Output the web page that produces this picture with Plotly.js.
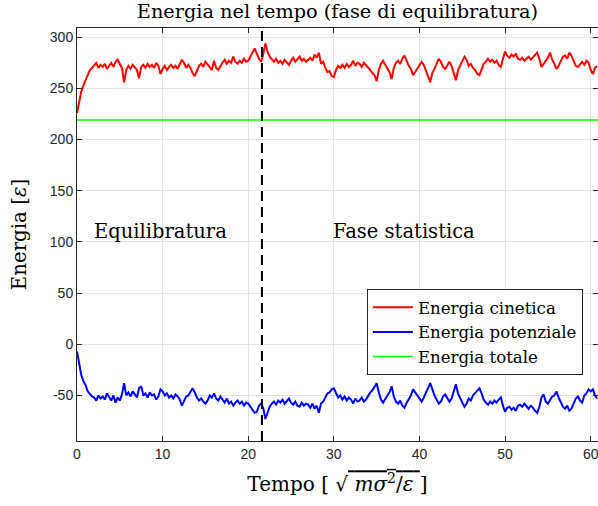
<!DOCTYPE html>
<html>
<head>
<meta charset="utf-8">
<script src="https://cdn.plot.ly/plotly-3.0.1.min.js"></script>
<style>html,body{margin:0;padding:0;background:#fff;overflow:hidden;}#chart{width:604px;height:506px;}</style>
</head>
<body>
<div id="chart"></div>
<script>
// Sampling of the time series (reduced units)
const timeStart = 0;
const timeStep = 0.25;
const timeEnd = 60.85;
const equilibrationEnd = 21.6;

// Kinetic energy (red)
const kineticEnergy = [
226,238,247,253, 258,263,268,270, 272,275,270,273, 271,274,269,272, 275,271,276,278,
274,270,256,268, 272,269,273,270, 268,260,271,273, 270,274,271,273, 270,275,272,264,
269,272,268,271, 273,270,272,269, 274,278,275,270, 273,270,265,262, 267,272,274,271,
276,273,270,268, 277,270,268,272, 275,278,274,277, 275,281,276,274, 277,275,279,276,
277,281,285,289, 284,279,276,283, 294,286,281,278, 276,279,275,277, 274,278,276,273,
277,280,276,279, 281,277,279,276, 278,280,277,283, 280,285,274,276, 270,266,267,262,
261,268,272,270, 273,270,274,271, 273,277,272,275, 274,271,275,273, 270,268,265,263,
257,268,274,277, 273,269,266,259, 270,275,277,274, 279,282,276,272, 269,263,266,269,
272,276,273,268, 262,256,265,269, 274,279,276,271, 269,273,276,272, 266,258,268,272,
276,281,278,272, 274,270,268,264, 263,268,274,276, 279,276,278,275, 277,273,271,279,
286,282,280,283, 281,284,279,278, 280,277,279,281, 278,280,283,285, 279,271,274,277,
280,285,278,274, 269,272,276,281, 282,279,285,282, 277,272,271,274, 276,273,277,275,
268,264,270,272
];

// Potential energy (blue)
const potentialEnergy = [
-7,-19,-30,-36, -40,-46,-49,-51, -52,-55,-50,-53, -51,-54,-48,-52, -55,-50,-57,-52,
-55,-49,-38,-50, -47,-51,-46,-49, -52,-43,-41,-50, -48,-52,-47,-50, -49,-54,-51,-44,
-46,-50,-48,-52, -50,-53,-49,-51, -54,-60,-55,-51, -50,-46,-43,-47, -52,-55,-53,-56,
-58,-55,-50,-52, -48,-53,-55,-51, -54,-57,-53,-58, -56,-60,-57,-55, -58,-56,-60,-57,
-58,-61,-65,-67, -66,-60,-58,-62, -73,-66,-61,-58, -56,-59,-55,-57, -54,-58,-55,-53,
-57,-59,-56,-60, -61,-57,-60,-58, -59,-62,-58,-63, -60,-67,-58,-56, -52,-48,-47,-44,
-43,-48,-52,-50, -54,-51,-55,-52, -54,-58,-53,-56, -55,-52,-56,-54, -50,-47,-45,-41,
-38,-47,-54,-57, -53,-50,-47,-41, -51,-56,-58,-55, -60,-62,-57,-53, -50,-44,-47,-50,
-53,-56,-52,-48, -43,-38,-45,-50, -54,-58,-56,-51, -49,-52,-56,-53, -47,-39,-48,-53,
-57,-61,-58,-53, -55,-50,-48,-45, -43,-48,-54,-57, -59,-56,-58,-55, -57,-54,-52,-60,
-66,-62,-61,-64, -62,-65,-60,-59, -61,-58,-60,-63, -60,-62,-65,-67, -61,-52,-49,-56,
-58,-54,-51,-50, -46,-52,-57,-61, -63,-60,-65,-63, -58,-53,-51,-55, -57,-50,-48,-44,
-46,-44,-50,-53
];

// Total energy (green), constant
const totalEnergy = 219;

const xTickVals = [0, 10, 20, 30, 40, 50, 60];
const xTickText = ['0', '10', '20', '30', '40', '50', '60'];
const yTickVals = [-50, 0, 50, 100, 150, 200, 250, 300];
const yTickText = ['-50', '0', '50', '100', '150', '200', '250', '300'];

const seriesNames = ['Energia cinetica', 'Energia potenziale', 'Energia totale'];
const phaseLabels = ['Equilibratura', 'Fase statistica'];
const phaseLabelX = [9.7, 38.2];
const phaseLabelY = 110;

const serif = 'DejaVu Serif, serif';
const sans = 'Liberation Sans, Arial, sans-serif';
const axisColor = '#262626';

const traces = [
  {type: 'scatter', mode: 'lines', name: seriesNames[0], x0: timeStart, dx: timeStep,
   y: kineticEnergy, line: {color: 'rgb(255,0,0)', width: 2}},
  {type: 'scatter', mode: 'lines', name: seriesNames[1], x0: timeStart, dx: timeStep,
   y: potentialEnergy, line: {color: 'rgb(0,0,255)', width: 2}},
  {type: 'scatter', mode: 'lines', name: seriesNames[2], x: [timeStart, timeEnd],
   y: [totalEnergy, totalEnergy], line: {color: 'rgb(0,255,0)', width: 1.5}}
];

const axisCommon = {
  showline: true, linecolor: axisColor, linewidth: 1, mirror: 'ticks',
  ticks: 'inside', ticklen: 5, tickcolor: axisColor, tickwidth: 1,
  showgrid: true, gridcolor: '#e3e3e3', gridwidth: 1, zeroline: false,
  tickfont: {family: sans, size: 14, color: axisColor}, automargin: false
};

const layout = {
  width: 604, height: 506,
  margin: {l: 77, r: 6, t: 28, b: 65},
  paper_bgcolor: '#fff', plot_bgcolor: '#fff',
  title: {text: 'Energia nel tempo (fase di equilibratura)', font: {family: serif, size: 19.3, color: '#000'},
          xref: 'paper', x: 0.5, xanchor: 'center', yref: 'container', y: 0.977, yanchor: 'middle'},
  xaxis: Object.assign({}, axisCommon, {
    range: [timeStart, timeEnd], tickmode: 'array', tickvals: xTickVals, ticktext: xTickText,
    title: {text: 'Tempo [ √<span style="text-decoration:overline"> <i>mσ</i><sup>2</sup>/<i>ε</i> </span>]',
            font: {family: serif, size: 20, color: '#000'}, standoff: 16}
  }),
  yaxis: Object.assign({}, axisCommon, {
    range: [-94.5, 309], tickmode: 'array', tickvals: yTickVals, ticktext: yTickText,
    title: {text: 'Energia [<i>ε</i>]', font: {family: serif, size: 19.8, color: '#000'}, standoff: 17}
  }),
  showlegend: true,
  legend: {x: 0.971, xanchor: 'right', y: 0.368, yanchor: 'top',
           bgcolor: '#fff', bordercolor: axisColor, borderwidth: 1,
           font: {family: serif, size: 16.6, color: '#000'}, itemwidth: 40, tracegroupgap: 0},
  shapes: [{type: 'line', xref: 'x', yref: 'paper', x0: equilibrationEnd, x1: equilibrationEnd, y0: 0, y1: 1,
            line: {color: '#000', width: 2, dash: '10px,6px'}}],
  annotations: phaseLabels.map((t, i) => ({
    text: t, x: phaseLabelX[i], y: phaseLabelY, xref: 'x', yref: 'y', showarrow: false,
    font: {family: serif, size: 19.5, color: '#000'}
  }))
};

Plotly.newPlot('chart', traces, layout, {staticPlot: true, displayModeBar: false});
</script>
</body>
</html>
